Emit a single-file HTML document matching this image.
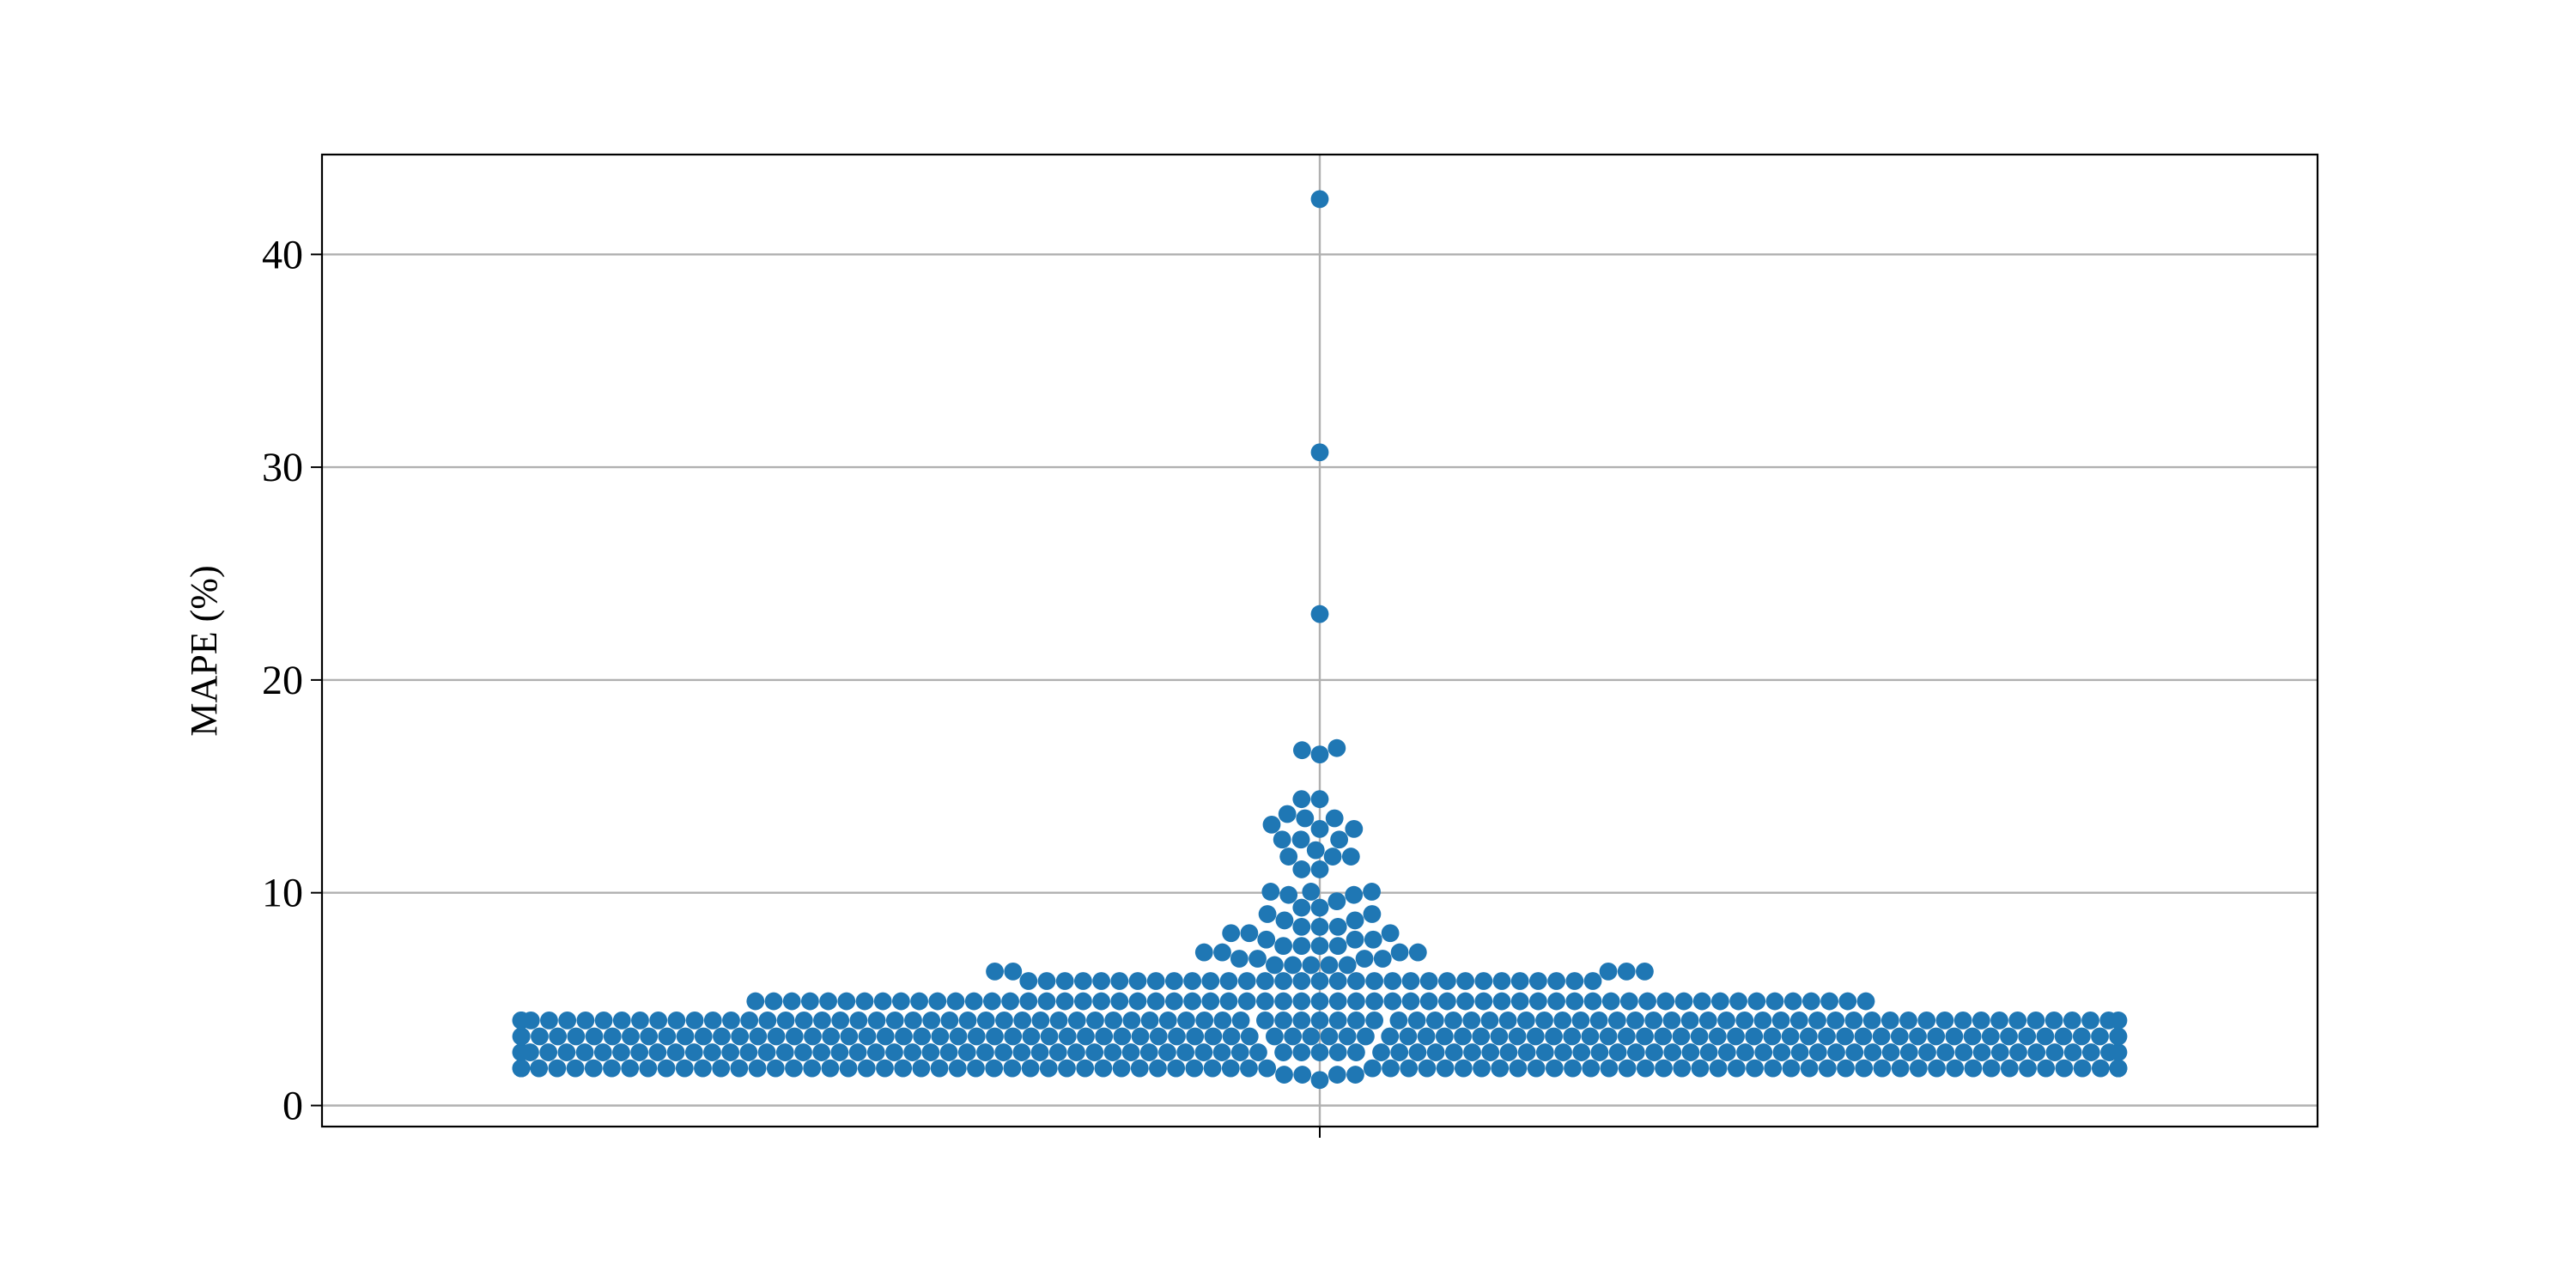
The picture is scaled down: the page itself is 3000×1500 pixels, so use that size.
<!DOCTYPE html>
<html><head><meta charset="utf-8"><style>
html,body{margin:0;padding:0;background:#fff;}
svg{display:block;}
text{font-family:"Liberation Serif",serif;fill:#000;}
</style></head><body>
<svg id="chart" width="3000" height="1500" viewBox="0 0 3000 1500" xmlns="http://www.w3.org/2000/svg">
<rect x="0" y="0" width="3000" height="1500" fill="#fff"/>
<g id="grid"></g>
<g id="points"></g>
<rect x="375" y="180" width="2324" height="1132" fill="none" stroke="#000" stroke-width="2.2"/>
<g id="yticks"></g>
<line x1="1537" y1="1312" x2="1537" y2="1325" stroke="#000" stroke-width="2"/>
<text transform="translate(252,758) rotate(-90)" text-anchor="middle" font-size="44">MAPE (%)</text>
</svg>
<script>
const levels = [1.2,1.45,1.75,2.5,3.25,4.0,4.9,5.85,6.3,6.6,6.9,7.2,7.5,7.8,8.1,8.4,8.7,9.0,9.3,9.6,9.9,10.05,11.1,11.7,12.0,12.5,13.0,13.2,13.5,13.7,14.4,16.5,16.7,16.8,23.1,30.7,42.6];
const counts = [1,4,88,90,90,90,62,32,5,5,4,4,4,3,3,3,2,2,2,1,2,3,2,3,1,3,2,1,2,1,2,1,1,1,1,1,1];
const yTicks = [0,10,20,30,40];

const NS = "http://www.w3.org/2000/svg";
const axL = 375, axR = 2699, cx = 1537, halfW = 930;
function yPix(v){ return 1287.5 - v * 24.78; }

const grid = document.getElementById('grid');
const yt = document.getElementById('yticks');
yTicks.forEach(t => {
  const y = yPix(t);
  const gl = document.createElementNS(NS,'line');
  
  
  gl.setAttribute('x1',axL); gl.setAttribute('x2',axR);
  gl.setAttribute('y1',y); gl.setAttribute('y2',y);
  gl.setAttribute('stroke','#b0b0b0'); gl.setAttribute('stroke-width','2.4');
  grid.appendChild(gl);
  const tk = document.createElementNS(NS,'line');
  
  
  tk.setAttribute('x1',axL-13); tk.setAttribute('x2',axL);
  tk.setAttribute('y1',y); tk.setAttribute('y2',y);
  tk.setAttribute('stroke','#000'); tk.setAttribute('stroke-width','2');
  yt.appendChild(tk);
  const tx = document.createElementNS(NS,'text');
  
  
  tx.setAttribute('x',axL-22); tx.setAttribute('y',y+16);
  tx.setAttribute('text-anchor','end'); tx.setAttribute('font-size','48');
  tx.textContent = t;
  yt.appendChild(tx);
});
const vg = document.createElementNS(NS,'line');


vg.setAttribute('x1',cx); vg.setAttribute('x2',cx);
vg.setAttribute('y1',180); vg.setAttribute('y2',1312);
vg.setAttribute('stroke','#b0b0b0'); vg.setAttribute('stroke-width','2.4');
grid.appendChild(vg);

const values = [];
levels.forEach((v,i) => { for (let k=0;k<counts[i];k++) values.push(v); });
values.sort((a,b)=>a-b);

const d = 21.2;
const placed = [];
values.forEach(v => {
  const y = yPix(v);
  const nb = placed.filter(p => Math.abs(p.y - y) < d);
  const cands = [0];
  nb.forEach(p => {
    const dx = Math.sqrt(d*d - (p.y-y)*(p.y-y));
    cands.push(p.x + dx, p.x - dx);
  });
  cands.sort((a,b)=>Math.abs(a)-Math.abs(b) || a-b);
  let best = 0;
  for (const c of cands) {
    let ok = true;
    for (const p of nb) {
      const dx = p.x - c, dy = p.y - y;
      if (dx*dx + dy*dy < d*d - 0.5) { ok = false; break; }
    }
    if (ok) { best = c; break; }
  }
  placed.push({x: best, y: y, v: v});
});

const pg = document.getElementById('points');
placed.forEach(p => {
  let x = p.x;
  if (x > halfW) x = halfW;
  if (x < -halfW) x = -halfW;
  const c = document.createElementNS(NS,'circle');
  
  
  c.setAttribute('cx', cx + x); c.setAttribute('cy', p.y);
  c.setAttribute('r', 10.4);
  c.setAttribute('fill','#1f77b4');
  pg.appendChild(c);
});
</script>
</body></html>
